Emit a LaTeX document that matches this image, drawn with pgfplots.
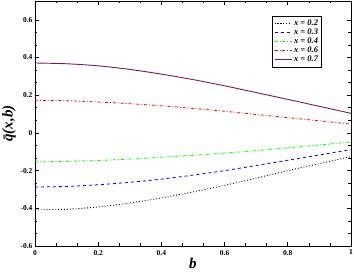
\documentclass[border=0pt]{standalone}
\usepackage{pgfplots}
\pgfplotsset{compat=1.18}
\usepackage{fontspec}
\setmainfont{Liberation Serif}
\definecolor{pur}{RGB}{115,30,85}
\begin{document}
\begin{tikzpicture}[x=1pt,y=1pt]
\begin{axis}[
  scale only axis, width=316pt, height=245pt,
  xmin=0, xmax=1, ymin=-0.6, ymax=0.7,
  xtick={0,0.2,...,1.0}, ytick={-0.6,-0.4,...,0.61},
  xticklabels={0,0.2,0.4,0.6,0.8,1},
  yticklabels={-0.6,-0.4,-0.2,0,0.2,0.4,0.6},
  minor tick num=2,
  tick align=inside, ticks=both,
  major tick length=4pt, minor tick length=2.5pt,
  axis line style={line width=0.9pt},
  every tick/.style={line width=0.6pt, black},
  tick label style={font=\fontsize{7.5}{8}\selectfont\bfseries},
  yticklabel style={xshift=1pt},
  xticklabel style={yshift=-0.5pt},
  xlabel={\textbf{\textit{b}}}, ylabel={\textbf{\textit{\={q}(x,b)}}},
  xlabel style={font=\fontsize{15}{16}\selectfont, yshift=4pt},
  ylabel style={font=\fontsize{15}{16}\selectfont, yshift=-2pt},
  legend style={at={(0.751,0.939)}, anchor=north west, font=\fontsize{8.5}{9.5}\selectfont\bfseries\itshape, inner sep=1.5pt, row sep=-2pt},
  legend cell align=left,
  legend image post style={line width=1pt},
]
\addplot[black, line width=0.9pt, dotted, smooth] coordinates {(0,-0.408) (0.1,-0.405) (0.2,-0.393) (0.3,-0.372) (0.4,-0.345) (0.5,-0.313) (0.6,-0.278) (0.7,-0.24) (0.8,-0.2) (0.9,-0.163) (1.0,-0.125)};
\addlegendentry{x = 0.2}
\addplot[blue, line width=0.8pt, dashed, smooth] coordinates {(0,-0.287) (0.1,-0.284) (0.2,-0.275) (0.3,-0.262) (0.4,-0.245) (0.5,-0.224) (0.6,-0.2) (0.7,-0.173) (0.8,-0.145) (0.9,-0.117) (1.0,-0.088)};
\addlegendentry{x = 0.3}
\addplot[green, line width=0.8pt, dash dot, smooth] coordinates {(0,-0.153) (0.1,-0.151) (0.2,-0.146) (0.3,-0.139) (0.4,-0.129) (0.5,-0.119) (0.6,-0.107) (0.7,-0.094) (0.8,-0.079) (0.9,-0.064) (1.0,-0.048)};
\addlegendentry{x = 0.4}
\addplot[red, line width=0.8pt, dash dot, smooth] coordinates {(0,0.173) (0.1,0.171) (0.2,0.164) (0.3,0.155) (0.4,0.144) (0.5,0.13) (0.6,0.115) (0.7,0.098) (0.8,0.081) (0.9,0.064) (1.0,0.047)};
\addlegendentry{x = 0.6}
\addplot[pur, line width=0.9pt, smooth] coordinates {(0,0.371) (0.1,0.367) (0.2,0.356) (0.3,0.337) (0.4,0.312) (0.5,0.283) (0.6,0.25) (0.7,0.214) (0.8,0.178) (0.9,0.141) (1.0,0.104)};
\addlegendentry{x = 0.7}
\end{axis}
\pgfresetboundingbox
\path ([xshift=-35pt,yshift=-27pt]current axis.south west) rectangle ([xshift=3pt,yshift=1pt]current axis.north east);
\end{tikzpicture}
\end{document}
